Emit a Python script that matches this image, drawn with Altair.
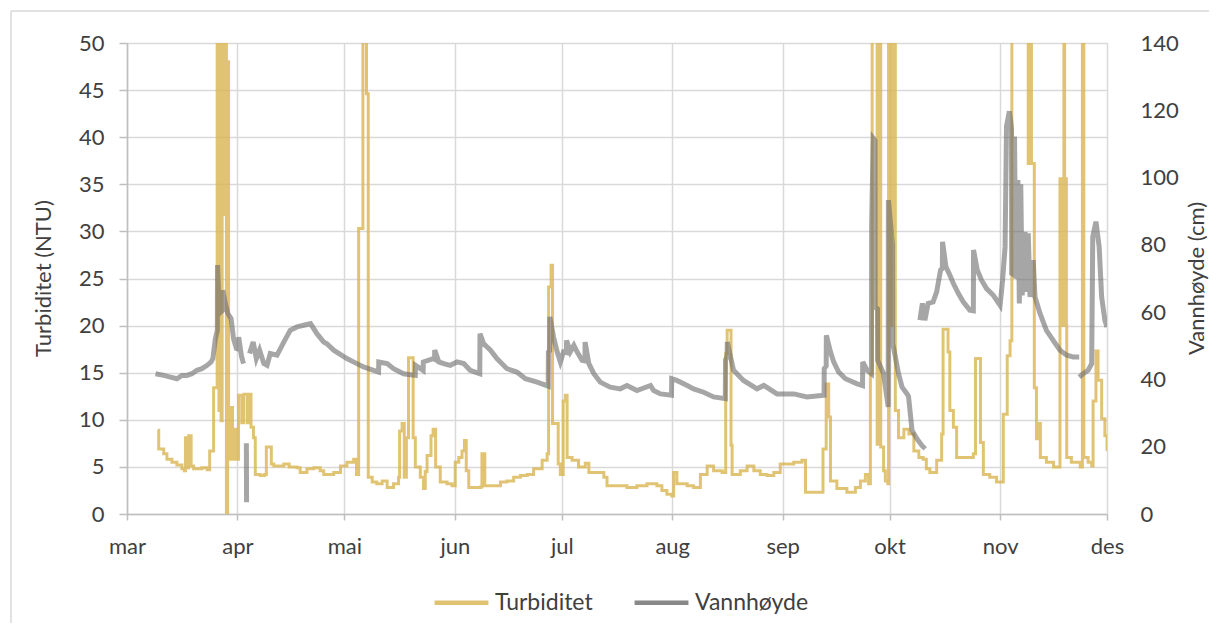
import altair as alt
import pandas as pd

MONTH_NAMES = ["jan", "feb", "mar", "apr", "mai", "jun", "jul", "aug", "sep", "okt", "nov", "des"]
SERIES = ["Turbiditet", "Vannhøyde"]
COLORS = ["#D9B550", "#6b6b6b"]

# (days after 1 March, NTU) - step changes; 80 = clipped spike above 50
TURBIDITET = [
    (8.6, 8.9), (8.9, 6.9), (10.3, 6.4), (11.2, 5.8), (12.6, 5.5), (14.0, 5.2), (15.4, 4.8), (16.1, 4.6),
    (16.4, 8.1), (16.8, 4.9), (17.3, 8.3), (18.0, 5.1), (18.7, 4.8), (21.0, 4.9), (22.5, 4.7), (23.2, 6.7),
    (24.3, 13.4), (25.3, 80), (25.8, 11.0), (26.1, 80), (26.4, 9.9), (26.7, 80), (27.1, 31.8), (27.5, 80),
    (27.9, 0.0), (28.25, 48.0), (28.5, 5.8), (29.0, 11.3), (29.6, 5.8), (30.0, 9.0), (30.6, 5.8), (31.3, 12.6),
    (32.2, 9.7), (32.8, 12.7), (33.8, 9.7), (34.4, 12.7), (34.8, 9.2), (35.5, 8.1), (36.0, 4.2), (37.4, 4.1),
    (38.6, 4.2), (39.1, 7.1), (40.5, 5.3), (41.2, 5.1), (44.0, 5.3), (45.5, 5.0), (47.7, 4.9), (48.6, 4.4),
    (50.5, 4.8), (52.4, 4.9), (54.2, 4.6), (55.2, 4.2), (56.1, 4.2), (58.0, 4.4), (59.9, 5.1), (61.7, 5.5),
    (63.6, 5.8), (64.4, 4.2), (65.0, 30.3), (66.2, 80), (67.2, 44.6), (67.7, 3.9), (68.8, 3.4), (70.1, 3.2),
    (71.6, 3.5), (73.0, 2.8), (74.8, 3.2), (76.2, 3.9), (76.5, 8.8), (77.2, 9.6), (77.8, 3.9), (78.4, 8.1),
    (79.0, 16.6), (80.3, 8.1), (80.9, 5.0), (82.3, 3.9), (83.2, 2.7), (83.7, 4.5), (84.2, 6.2), (85.3, 8.3),
    (85.9, 9.0), (86.6, 5.0), (87.9, 3.4), (89.8, 3.2), (91.2, 3.0), (92.1, 5.5), (93.1, 6.0), (94.0, 6.7),
    (94.7, 7.8), (95.2, 4.6), (95.9, 2.8), (99.3, 2.9), (99.6, 6.4), (100.4, 3.0), (104.8, 3.4), (106.6, 3.5),
    (108.5, 3.9), (110.4, 4.1), (112.3, 4.2), (114.1, 4.8), (116.5, 5.7), (117.9, 6.4), (118.3, 24.1),
    (119.0, 26.4), (119.4, 9.6), (121.0, 5.3), (121.6, 4.2), (122.4, 12.0), (123.0, 12.6), (123.5, 6.0),
    (124.9, 5.7), (126.7, 5.0), (128.6, 5.4), (129.6, 4.4), (133.8, 3.9), (134.7, 3.0), (140.3, 2.8),
    (143.1, 3.0), (145.9, 3.2), (148.7, 3.0), (150.1, 2.5), (151.5, 2.1), (152.9, 1.9), (153.4, 4.4),
    (154.3, 3.2), (157.2, 3.0), (159.0, 2.8), (160.9, 4.2), (162.8, 5.1), (164.6, 4.6), (167.0, 4.4),
    (168.0, 17.0), (168.4, 19.5), (169.5, 7.3), (169.8, 4.2), (172.1, 4.6), (174.0, 5.1), (175.9, 4.6),
    (177.7, 4.2), (179.6, 4.1), (181.5, 4.4), (183.3, 5.3), (187.1, 5.5), (189.4, 5.7), (190.4, 2.3),
    (195.3, 6.9), (196.2, 13.8), (196.9, 10.3), (197.4, 3.5), (199.2, 2.7), (202.0, 2.3), (204.4, 2.8),
    (205.8, 3.5), (207.2, 4.2), (208.1, 3.2), (208.6, 14.9), (209.1, 80), (210.5, 7.4), (211.1, 80),
    (211.5, 7.1), (212.3, 4.6), (212.8, 3.5), (213.5, 3.2), (213.7, 80), (214.3, 20.0), (214.6, 80),
    (215.0, 30.0), (215.2, 80), (215.6, 11.0), (216.5, 8.1), (218.0, 9.0), (219.4, 8.5), (220.8, 6.7),
    (222.2, 6.0), (223.4, 5.8), (224.3, 4.8), (225.3, 4.4), (227.2, 5.7), (228.6, 8.5), (229.0, 19.6),
    (230.4, 17.2), (230.9, 11.0), (231.9, 9.2), (232.8, 6.0), (237.5, 6.4), (238.1, 16.5), (239.5, 7.6),
    (240.3, 4.2), (242.1, 3.9), (244.0, 3.4), (245.9, 10.6), (247.0, 16.8), (247.8, 18.4), (248.3, 80),
    (252.9, 37.2), (253.3, 80), (253.8, 37.2), (254.6, 13.4), (255.2, 8.0), (255.6, 9.6), (256.3, 6.0),
    (258.0, 5.5), (260.0, 5.0), (261.8, 35.6), (262.2, 20.0), (262.5, 35.6), (262.9, 80), (263.1, 20.0),
    (263.4, 35.6), (263.6, 20.0), (263.7, 6.0), (265.0, 5.5), (267.5, 5.0), (268.1, 80), (268.5, 6.0),
    (269.7, 5.5), (270.7, 5.1), (271.1, 12.0), (271.9, 17.3), (272.5, 14.2), (273.5, 10.1), (274.4, 8.3),
    (275.0, 6.7),
]

# (days after 1 March, cm) - separate logger segments
VANN_SEG0 = [
    (8.0, 41.7), (10.3, 41.2), (12.2, 40.7), (14.0, 40.2), (15.4, 41.2), (16.8, 41.2), (18.2, 41.7),
    (19.6, 42.7), (21.0, 43.2), (22.5, 44.2), (23.6, 45.2), (24.1, 46.2), (24.8, 52.1), (25.35, 54.6),
    (25.4, 74.0), (25.9, 59.6), (26.8, 60.5), (26.85, 66.5), (27.5, 63.1), (28.3, 59.6), (29.2, 58.1),
    (29.9, 52.1), (30.7, 49.2), (31.3, 49.0), (31.35, 52.6), (32.1, 47.0), (32.7, 44.7),
]
VANN_SEG1 = [(33.5, 21.0), (33.55, 3.5)]
VANN_SEG2 = [
    (34.4, 47.7), (35.4, 51.1), (36.3, 46.2), (37.2, 48.7), (38.4, 44.7), (39.3, 44.2), (40.2, 47.7),
    (42.1, 47.2), (44.0, 51.1), (45.8, 54.6), (47.7, 55.6), (49.6, 56.1), (51.5, 56.6), (53.3, 53.6),
    (55.2, 51.1), (56.1, 50.6), (58.0, 48.7), (61.7, 46.2), (64.5, 44.7), (66.4, 43.7), (69.2, 42.7),
    (70.6, 42.2), (70.65, 45.2), (73.0, 44.7), (74.8, 43.2), (77.6, 41.7), (80.9, 41.2), (80.95, 44.2),
    (83.1, 42.7), (83.15, 45.2), (85.9, 46.2), (86.3, 46.0), (86.35, 48.7), (87.5, 45.2), (88.9, 44.7),
    (90.7, 44.2), (92.6, 45.2), (94.5, 44.7), (96.3, 42.7), (99.0, 41.7), (99.05, 53.6), (100.1, 50.6),
    (102.0, 48.7), (103.8, 46.2), (106.6, 43.2), (109.4, 42.2), (111.8, 40.2), (115.1, 39.2), (118.2, 38.0),
    (118.25, 48.2), (118.6, 48.5), (118.65, 58.6), (119.7, 52.6), (120.7, 48.2), (121.6, 45.2), (122.5, 48.2),
    (123.3, 48.0), (123.35, 51.6), (124.4, 48.2), (125.4, 50.1), (126.3, 48.2), (127.7, 45.7), (128.5, 45.5),
    (128.55, 51.1), (129.6, 44.7), (131.0, 41.7), (132.8, 39.2), (135.6, 37.7), (138.4, 37.2), (140.3, 38.2),
    (143.1, 36.7), (146.9, 38.2), (147.8, 36.7), (149.7, 35.7), (152.8, 35.3), (152.85, 40.2), (154.3, 39.7),
    (157.2, 38.2), (159.0, 37.2), (161.8, 36.2), (164.6, 34.8), (167.9, 34.3), (167.95, 45.7), (168.4, 47.0),
    (168.45, 51.1), (170.2, 42.7), (173.0, 39.7), (176.8, 37.2), (178.7, 38.2), (182.4, 35.7), (187.1, 35.7),
    (190.8, 34.8), (195.6, 35.3), (195.65, 43.2), (196.2, 44.0), (196.25, 53.1), (197.4, 48.2), (198.3, 45.2),
    (199.7, 42.2), (201.6, 40.2), (204.9, 38.7), (206.4, 38.2), (206.45, 45.2), (207.7, 42.7), (208.9, 41.7),
    (208.95, 85.9), (209.4, 111.7), (209.9, 111.0), (209.95, 61.6), (210.6, 61.0), (210.65, 45.7),
    (212.3, 41.7), (213.6, 31.8), (213.65, 93.3), (214.8, 79.9), (214.85, 50.6), (215.2, 49.0),
    (216.5, 41.7), (217.5, 37.7), (218.9, 35.7), (219.3, 35.0), (220.3, 24.8), (221.7, 22.3), (223.1, 20.3),
    (224.0, 19.4),
]
VANN_SEG3 = [
    (222.5, 57.6), (223.2, 62.6), (223.9, 57.6), (224.8, 62.6), (226.2, 63.0), (227.2, 66.0), (228.3, 72.5),
    (228.8, 73.0), (228.85, 80.9), (229.8, 73.5), (230.9, 71.0), (231.9, 68.5), (233.3, 65.5), (234.7, 63.0),
    (236.5, 60.6), (237.5, 60.4), (237.55, 78.5), (238.6, 72.5), (239.8, 69.5), (241.2, 67.0), (243.1, 65.0),
    (245.0, 62.0), (245.7, 69.5), (246.4, 79.4), (246.8, 115.2), (247.6, 119.7), (248.2, 114.7),
    (248.25, 71.5), (249.0, 71.0), (249.05, 112.2), (249.4, 70.0), (250.0, 99.3), (250.4, 62.6),
    (250.8, 98.0), (251.2, 65.0), (252.0, 83.9), (252.5, 66.0), (252.9, 83.4), (253.4, 64.5), (254.3, 75.5),
    (254.8, 64.5), (256.2, 59.6), (258.0, 54.6), (259.9, 51.6), (261.8, 48.7), (263.7, 47.2), (265.5, 46.7),
    (267.2, 46.7),
]
VANN_SEG4 = [
    (267.2, 40.7), (268.3, 41.7), (269.7, 42.7), (270.7, 44.7), (271.0, 82.4), (271.9, 86.9), (272.8, 79.4),
    (273.5, 64.5), (274.4, 57.6), (275.0, 55.6),
]

START = pd.Timestamp("2021-03-01")


def to_frame(points, series, seg=0):
    days = [p[0] for p in points]
    vals = [p[1] for p in points]
    return pd.DataFrame({
        "date": (START + pd.to_timedelta(days, unit="D")).strftime("%Y-%m-%dT%H:%M:%S"),
        "value": vals,
        "series": series,
        "seg": seg,
    })


turb = to_frame(TURBIDITET, SERIES[0])
vann = pd.concat([to_frame(s, SERIES[1], i) for i, s in
                  enumerate([VANN_SEG0, VANN_SEG1, VANN_SEG2, VANN_SEG3, VANN_SEG4])], ignore_index=True)

FONT = "Lato"
TXT = "#404040"
GRID = "#d9d9d9"
AXL = "#bfbfbf"

x_enc = alt.X(
    "date:T",
    scale=alt.Scale(domain=[alt.DateTime(year=2021, month=3, date=1), alt.DateTime(year=2021, month=12, date=1)]),
    axis=alt.Axis(
        values=[alt.DateTime(year=2021, month=m, date=1) for m in range(3, 13)],
        labelExpr="['" + "','".join(MONTH_NAMES) + "'][month(datum.value)]",
        title=None, grid=True, gridColor=GRID, gridWidth=1.5,
        domainColor=AXL, domainWidth=1.5, tickColor=AXL, tickWidth=1.5, tickSize=6,
        labelFont=FONT, labelFontSize=22, labelColor=TXT, labelPadding=16, labelFlush=False,
    ),
)

color_scale = alt.Scale(domain=SERIES, range=COLORS)
legend = alt.Legend(
    title=None, orient="none", legendX=305, legendY=530, direction="horizontal",
    symbolType="stroke", symbolSize=2900, symbolStrokeWidth=4.5,
    labelFont=FONT, labelFontSize=23, labelColor=TXT, labelOffset=4, columnPadding=32,
)

gold = alt.Chart(turb).mark_line(interpolate="step-after", strokeWidth=3, opacity=0.8, clip=True).encode(
    x=x_enc,
    y=alt.Y("value:Q", scale=alt.Scale(domain=[0, 50], nice=False),
            axis=alt.Axis(values=list(range(0, 51, 5)), title="Turbiditet (NTU)", grid=True,
                          gridColor=GRID, gridWidth=1.5, domainColor=AXL, domainWidth=1.5,
                          tickColor=AXL, tickWidth=1.5, tickSize=8, labelPadding=15,
                          labelFont=FONT, labelFontSize=22, labelColor=TXT,
                          titleFont=FONT, titleFontSize=22, titleFontWeight="normal", titleColor=TXT,
                          titleX=-84, titleY=235, titleAngle=270, titleAlign="center",
                          titleBaseline="middle")),
    color=alt.Color("series:N", scale=color_scale, legend=legend),
)

gray = alt.Chart(vann).mark_line(interpolate="linear", strokeWidth=5, opacity=0.6, clip=True,
                                 strokeJoin="miter").encode(
    x=x_enc,
    y=alt.Y("value:Q", scale=alt.Scale(domain=[0, 140], nice=False),
            axis=alt.Axis(orient="right", values=list(range(0, 141, 20)), title="Vannhøyde (cm)",
                          grid=False, domain=False, ticks=False, labelPadding=33,
                          labelFont=FONT, labelFontSize=22, labelColor=TXT,
                          titleFont=FONT, titleFontSize=22, titleFontWeight="normal", titleColor=TXT,
                          titleX=89, titleY=235, titleAngle=270, titleAlign="center",
                          titleBaseline="middle")),
    color=alt.Color("series:N", scale=color_scale, legend=legend),
    detail="seg:N",
)

frame_src = pd.DataFrame({"k": [0]})
frame_left = alt.Chart(frame_src).mark_rule(color=GRID, strokeWidth=1.5, clip=False).encode(
    x=alt.value(-116), y=alt.value(-32), y2=alt.value(600))
frame_top = alt.Chart(frame_src).mark_rule(color=GRID, strokeWidth=1.5, clip=False).encode(
    x=alt.value(-116), x2=alt.value(1110), y=alt.value(-32))

chart = alt.layer(gold, gray, frame_left, frame_top).resolve_scale(y="independent").properties(
    width=980, height=471,
    autosize=alt.AutoSizeParams(type="none"),
    padding={"left": 119, "top": 35, "right": 102, "bottom": 109},
).configure_view(stroke=None).configure(background="white")

chart.save("out.html", embed_options={"renderer": "svg", "actions": False})
